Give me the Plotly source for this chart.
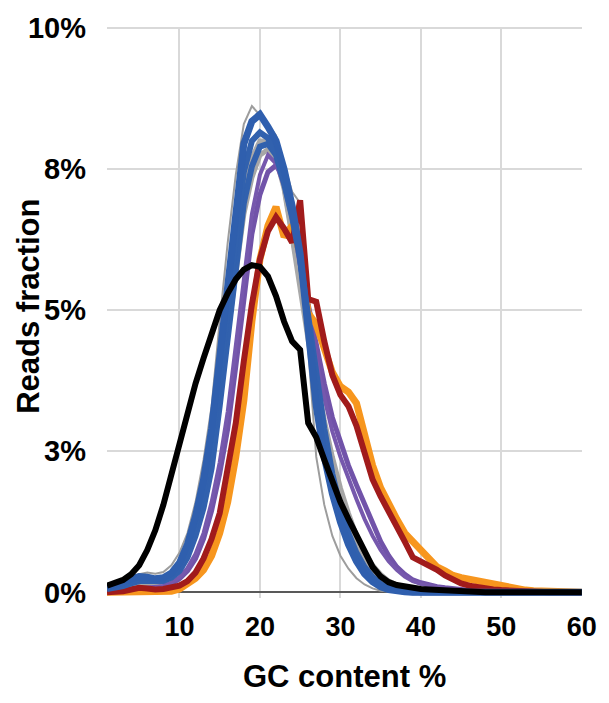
import plotly.graph_objects as go

gc = list(range(1, 61))

def pad(vals):
    return vals + [0.0] * (60 - len(vals))

gray_thin = pad([0.05, 0.08, 0.14, 0.24, 0.32, 0.35, 0.33, 0.36, 0.48, 0.7,
                 1.05, 1.6, 2.35, 3.3, 4.8, 6.2, 7.4, 8.3, 8.62, 8.45,
                 8.3, 8.1, 7.6, 7.1, 6.9, 4.3, 2.4, 1.55, 1.0, 0.65,
                 0.42, 0.25, 0.14, 0.07, 0.03, 0.01])
gray_a = pad([0.03, 0.05, 0.08, 0.12, 0.15, 0.16, 0.16, 0.18, 0.26, 0.42,
              0.7, 1.1, 1.7, 2.5, 3.5, 4.6, 5.7, 6.7, 7.35, 7.75,
              7.85, 7.7, 7.2, 6.4, 5.5, 4.6, 3.8, 3.05, 2.4, 1.85,
              1.4, 1.0, 0.7, 0.48, 0.32, 0.2, 0.13, 0.08, 0.05, 0.03,
              0.02, 0.01])
gray_b = pad([0.04, 0.06, 0.1, 0.15, 0.19, 0.2, 0.19, 0.21, 0.3, 0.48,
              0.8, 1.25, 1.9, 2.8, 3.9, 5.1, 6.2, 7.1, 7.7, 8.0,
              8.0, 7.7, 7.15, 6.3, 5.35, 4.4, 3.55, 2.8, 2.15, 1.6,
              1.15, 0.8, 0.55, 0.36, 0.22, 0.13, 0.08, 0.05, 0.03, 0.02,
              0.01])
purple_a = pad([0.02, 0.03, 0.04, 0.05, 0.06, 0.07, 0.08, 0.1, 0.15, 0.24,
                0.38, 0.6, 0.95, 1.45, 2.1, 2.9, 4.0, 5.25, 6.35, 7.05,
                7.45, 7.57, 7.35, 6.9, 6.1, 5.1, 4.35, 3.7, 3.1, 2.65,
                2.25, 1.9, 1.55, 1.2, 0.9, 0.65, 0.45, 0.32, 0.22, 0.17,
                0.13, 0.1, 0.08, 0.06, 0.04, 0.03, 0.02, 0.01])
purple_b = pad([0.02, 0.03, 0.04, 0.06, 0.07, 0.08, 0.09, 0.11, 0.17, 0.27,
                0.43, 0.68, 1.05, 1.6, 2.3, 3.2, 4.35, 5.6, 6.7, 7.4,
                7.75, 7.6, 7.2, 6.6, 5.8, 4.9, 4.1, 3.45, 2.85, 2.4,
                2.0, 1.65, 1.3, 1.0, 0.75, 0.55, 0.4, 0.28, 0.2, 0.15,
                0.12, 0.09, 0.07, 0.05, 0.04, 0.03, 0.02, 0.01])
orange = pad([0.0, 0.0, 0.0, 0.0, 0.0, 0.0, 0.0, 0.0, 0.02, 0.06,
              0.14, 0.25, 0.4, 0.65, 1.05, 1.6, 2.4, 3.4, 4.8, 5.9,
              6.5, 6.83, 6.3, 6.5, 6.0, 4.95, 4.75, 4.35, 3.9, 3.65,
              3.55, 3.35, 2.8, 2.25, 1.85, 1.55, 1.3, 1.05, 0.9, 0.75,
              0.6, 0.45, 0.38, 0.3, 0.26, 0.23, 0.21, 0.2, 0.16, 0.12,
              0.09, 0.06, 0.04, 0.03, 0.02, 0.01])
red = pad([0.0, 0.0, 0.02, 0.05, 0.08, 0.07, 0.05, 0.06, 0.08, 0.12,
           0.2, 0.35, 0.6, 0.95, 1.4, 2.15, 3.0, 4.1, 5.1, 5.9,
           6.4, 6.65, 6.45, 6.2, 6.95, 5.2, 5.15, 4.45, 3.85, 3.5,
           3.3, 2.95, 2.5, 2.0, 1.7, 1.45, 1.2, 0.9, 0.62, 0.55,
           0.48, 0.4, 0.3, 0.22, 0.16, 0.12, 0.09, 0.07, 0.05, 0.04,
           0.03, 0.02, 0.015, 0.01, 0.01])
blue_a = pad([0.1, 0.12, 0.17, 0.24, 0.28, 0.27, 0.24, 0.26, 0.34, 0.52,
              0.85, 1.35, 2.0, 2.9, 4.2, 5.5, 6.9, 7.95, 8.35, 8.47,
              8.25, 8.0, 7.5, 6.85, 6.0, 4.6, 3.3, 2.4, 1.75, 1.25,
              0.85, 0.55, 0.33, 0.19, 0.1, 0.05, 0.02, 0.01])
blue_b = pad([0.08, 0.1, 0.14, 0.2, 0.24, 0.24, 0.22, 0.23, 0.3, 0.45,
              0.75, 1.2, 1.8, 2.6, 3.8, 5.1, 6.4, 7.45, 8.0, 8.15,
              8.05, 7.8, 7.3, 6.8, 5.95, 4.75, 3.55, 2.7, 1.95, 1.4,
              0.95, 0.62, 0.4, 0.24, 0.13, 0.07, 0.03, 0.01])
blue_c = pad([0.06, 0.08, 0.11, 0.16, 0.2, 0.2, 0.19, 0.2, 0.26, 0.38,
              0.62, 1.0, 1.5, 2.2, 3.3, 4.5, 5.8, 6.9, 7.55, 7.9,
              7.95, 7.75, 7.25, 6.65, 5.9, 4.9, 3.8, 2.9, 2.1, 1.5,
              1.05, 0.7, 0.45, 0.27, 0.15, 0.08, 0.04, 0.02])
black = pad([0.12, 0.16, 0.22, 0.32, 0.48, 0.75, 1.1, 1.55, 2.1, 2.65,
             3.2, 3.7, 4.15, 4.6, 5.0, 5.3, 5.55, 5.72, 5.8, 5.77,
             5.6, 5.25, 4.8, 4.45, 4.3, 3.0, 2.75, 2.35, 1.95, 1.6,
             1.3, 1.0, 0.7, 0.45, 0.28, 0.18, 0.13, 0.1, 0.08, 0.06,
             0.05, 0.04, 0.03, 0.02, 0.02, 0.01, 0.01])

y_tick_vals = [0, 2.5, 5, 7.5, 10]
y_tick_text = ["0%", "3%", "5%", "8%", "10%"]
x_tick_vals = [10, 20, 30, 40, 50, 60]
x_tick_text = ["10", "20", "30", "40", "50", "60"]

series = [
    (gray_a, "#a6a6a6", 5),
    (gray_b, "#a9a9a9", 5),
    (purple_a, "#7153a9", 5),
    (purple_b, "#7658ad", 4),
    (gray_thin, "#9d9d9d", 2),
    (orange, "#f7961e", 7),
    (red, "#a11b1b", 6),
    (blue_c, "#3161ae", 6),
    (blue_b, "#3161ae", 6),
    (blue_a, "#2f5fae", 7),
    (black, "#000000", 6),
]

fig = go.Figure()
for vals, color, w in series:
    fig.add_trace(go.Scatter(x=gc, y=vals, mode="lines",
                             line=dict(color=color, width=w),
                             showlegend=False, hoverinfo="skip"))

font_family = "Arial, Liberation Sans, sans-serif"
fig.update_layout(
    width=609, height=703,
    margin=dict(l=107, r=17, t=24, b=105),
    paper_bgcolor="white", plot_bgcolor="white",
    font=dict(family=font_family, color="#000000"),
    xaxis=dict(range=[1, 60.02], tickvals=x_tick_vals, ticktext=x_tick_text,
               showgrid=True, gridcolor="#d9d9d9", gridwidth=1.6,
               zeroline=False, showline=False, ticks="",
               tickfont=dict(size=27, family=font_family, weight="bold"),
               ticklabelstandoff=10),
    yaxis=dict(range=[-0.1, 10.02], tickvals=y_tick_vals, ticktext=y_tick_text,
               showgrid=True, gridcolor="#d9d9d9", gridwidth=1.6,
               zeroline=True, zerolinecolor="#595959", zerolinewidth=1.5,
               showline=False, ticks="",
               tickfont=dict(size=29, family=font_family, weight="bold"),
               ticklabelstandoff=20),
    annotations=[
        dict(text="Reads fraction", xref="paper", yref="paper",
             x=-0.165, y=0.511, xanchor="center", yanchor="middle",
             textangle=-90, showarrow=False,
             font=dict(size=31, family=font_family, weight="bold")),
        dict(text="GC content %", xref="paper", yref="paper",
             x=0.5, y=-0.137, xanchor="center", yanchor="middle",
             showarrow=False,
             font=dict(size=31, family=font_family, weight="bold")),
    ],
)

fig.write_html("out.html")
